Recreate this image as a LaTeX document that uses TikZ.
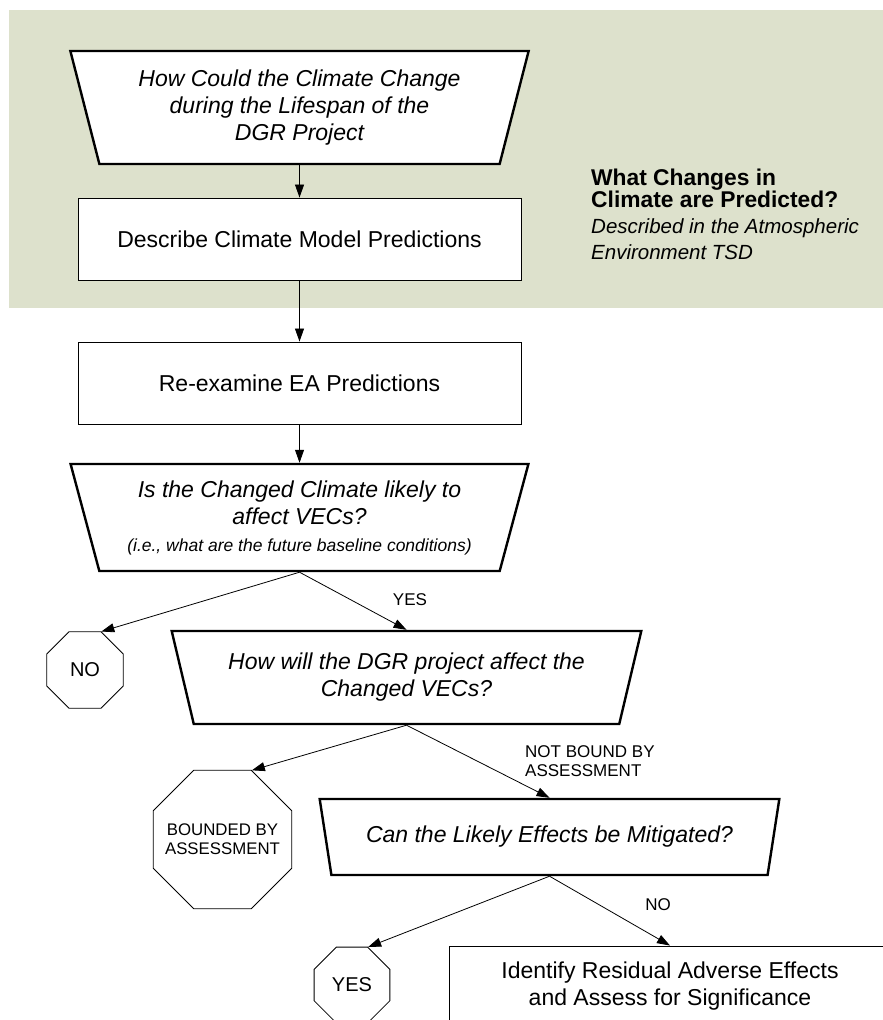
\documentclass[tikz,border=0pt]{standalone}
\usepackage{fontspec}
\setmainfont{Liberation Sans}
\usetikzlibrary{shapes.geometric}
\usetikzlibrary{arrows.meta}

\definecolor{atmosgreen}{RGB}{221,225,204}

\tikzset{
    question/.style={trapezium, draw=black, line width=2.4pt, fill=white,
        shape border rotate=180, trapezium stretches=true, align=center,
        inner sep=0pt, font=\fontsize{23}{27}\selectfont\itshape},
    process/.style={rectangle, draw=black, line width=0.9pt, fill=white,
        align=center, font=\fontsize{23}{27}\selectfont},
    stopsign/.style={regular polygon, regular polygon sides=8, draw=black,
        line width=0.8pt, fill=white, inner sep=0pt, align=center},
    branch/.style={font=\fontsize{17}{19}\selectfont, align=left, inner sep=0pt},
    flow/.style={-{Triangle[length=13pt,width=9pt]}, line width=0.8pt}
}

\begin{document}
\begin{tikzpicture}[x=1pt,y=-1pt]

        \useasboundingbox (0,0) rectangle (883,1020);
        \clip (0,0) rectangle (883,1020);
        \fill [atmosgreen] (9,10) rectangle (883,308);

        \node[question, minimum width=460pt, minimum height=113pt, trapezium angle=72.8] (lifespan) at (299.5,107.5) {How Could the Climate Change\\during the Lifespan of the\\DGR Project};
        \node[process, minimum width=443pt, minimum height=82pt] (models) at (299.5,239) {Describe Climate Model Predictions};

        \node[anchor=north west, align=left, inner sep=0pt, font=\fontsize{22.8}{22}\selectfont\bfseries] (predicted) at (591,169) {What Changes in\\Climate are Predicted?};
        \node[anchor=north west, align=left, inner sep=0pt, font=\fontsize{20.5}{26}\selectfont\itshape] (tsd) at (591,218) {Described in the Atmospheric\\Environment TSD};

        \node[process, minimum width=443pt, minimum height=82pt] (reexamine) at (299.5,383) {Re-examine EA Predictions};
        \node[question, minimum width=459pt, minimum height=107pt, trapezium angle=71.6] (affectvec) at (299.5,517.5) {Is the Changed Climate likely to\\affect VECs?\\{\fontsize{17.5}{23}\selectfont (i.e., what are the future baseline conditions)}};

        \node[stopsign, minimum size=83pt, font=\fontsize{20}{24}\selectfont] (noend) at (85,670) {NO};
        \node[question, minimum width=471pt, minimum height=93pt, trapezium angle=69.1] (dgreffect) at (406.5,677.5) {How will the DGR project affect the\\Changed VECs?};

        \node[stopsign, minimum size=150pt, inner sep=-20pt, font=\fontsize{16.8}{19}\selectfont] (bounded) at (222.5,839.5) {BOUNDED BY\\ASSESSMENT};
        \node[question, minimum width=461pt, minimum height=76pt, trapezium angle=65.3] (mitigate) at (549.5,837) {Can the Likely Effects be Mitigated?};

        \node[stopsign, minimum size=82pt, font=\fontsize{20}{24}\selectfont] (yesend) at (352,985) {YES};
        \node[process, minimum width=442pt, minimum height=80pt] (residual) at (670,986) {Identify Residual Adverse Effects\\and Assess for Significance};

        \node[branch] (yeslbl) at (410,600) {YES};
        \node[branch, anchor=west] (notbound) at (525,761) {NOT BOUND BY\\ASSESSMENT};
        \node[branch] (nolbl) at (658,905) {NO};

        \draw [flow] (lifespan.south) -- (models.north);
        \draw [flow] (models.south) -- (reexamine.north);
        \draw [flow] (reexamine.south) -- (affectvec.north);
        \draw [flow] (affectvec.south) -- (noend.67.5);
        \draw [flow] (affectvec.south) -- (dgreffect.north);
        \draw [flow] (dgreffect.south) -- (bounded.67.5);
        \draw [flow] (dgreffect.south) -- (mitigate.north);
        \draw [flow] (mitigate.south) -- (yesend.67.5);
        \draw [flow] (mitigate.south) -- (residual.north);

    \end{tikzpicture}
\end{document}
